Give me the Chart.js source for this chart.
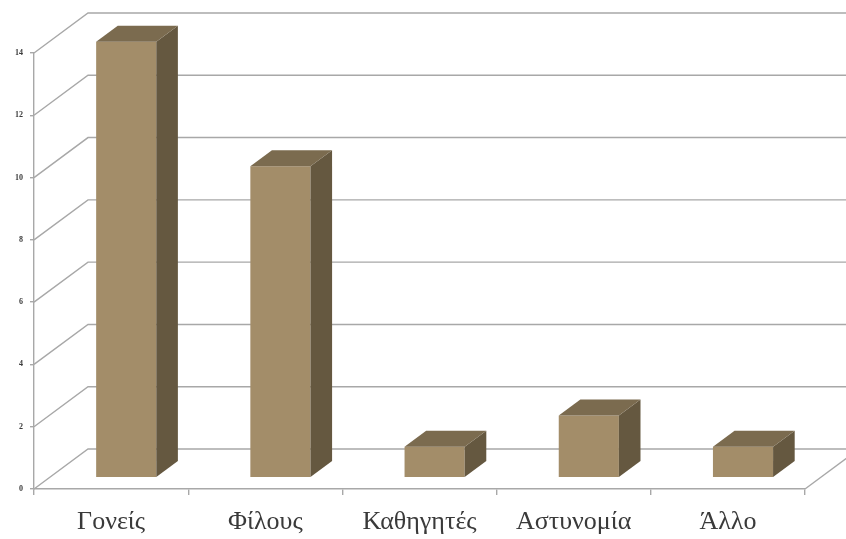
<!DOCTYPE html>
<html>
<head>
<meta charset="utf-8">
<script src="https://cdn.jsdelivr.net/npm/chart.js@4.4.1/dist/chart.umd.min.js"></script>
<style>
  html, body { margin: 0; padding: 0; background: #ffffff; }
  canvas { display: block; }
</style>
</head>
<body>
<canvas id="chart" width="846" height="539"></canvas>
<script>
// Data
const categories = ['Γονείς', 'Φίλους', 'Καθηγητές', 'Αστυνομία', 'Άλλο'];
const counts = [14, 10, 1, 2, 1];
const yTickValues = [0, 2, 4, 6, 8, 10, 12, 14];

// 3D projection: depth of the floor/walls, where the bars sit within it, and how deep they are
const depth = { dx: 54, dy: 40, front: 0.28, size: 0.4 };
const colors = {
  front: '#a38d69',
  side: '#655840',
  top: '#7b6b4f',
  grid: '#a8a8a8',
  text: '#3a3a3a'
};

const wall3d = {
  id: 'wall3d',
  beforeDatasetsDraw(chart) {
    const { ctx, chartArea: a, scales: { y } } = chart;
    ctx.save();
    ctx.strokeStyle = colors.grid;
    ctx.lineWidth = 1.4;
    // gridlines on the left side wall and the back wall
    yTickValues.forEach(v => {
      const py = y.getPixelForValue(v);
      ctx.beginPath();
      ctx.moveTo(a.left, py);
      ctx.lineTo(a.left + depth.dx, py - depth.dy);
      ctx.lineTo(a.right + depth.dx, py - depth.dy);
      ctx.stroke();
    });
    // right edge of the floor
    const base = y.getPixelForValue(0);
    ctx.beginPath();
    ctx.moveTo(a.right, base);
    ctx.lineTo(a.right + depth.dx, base - depth.dy);
    ctx.stroke();
    ctx.restore();
    // bars sit partway into the depth of the floor
    ctx.save();
    ctx.translate(depth.dx * depth.front, -depth.dy * depth.front);
  },
  afterDatasetsDraw(chart) {
    const { ctx } = chart;
    const ox = depth.dx * depth.size, oy = depth.dy * depth.size;
    chart.getDatasetMeta(0).data.forEach(bar => {
      const { x, y, base, width } = bar.getProps(['x', 'y', 'base', 'width'], true);
      const l = x - width / 2, r = x + width / 2;
      // side face
      ctx.fillStyle = colors.side;
      ctx.beginPath();
      ctx.moveTo(r, y);
      ctx.lineTo(r + ox, y - oy);
      ctx.lineTo(r + ox, base - oy);
      ctx.lineTo(r, base);
      ctx.closePath();
      ctx.fill();
      // top face
      ctx.fillStyle = colors.top;
      ctx.beginPath();
      ctx.moveTo(l, y);
      ctx.lineTo(l + ox, y - oy);
      ctx.lineTo(r + ox, y - oy);
      ctx.lineTo(r, y);
      ctx.closePath();
      ctx.fill();
    });
    ctx.restore();
  }
};

new Chart(document.getElementById('chart'), {
  type: 'bar',
  data: {
    labels: categories,
    datasets: [{
      data: counts,
      backgroundColor: colors.front,
      borderWidth: 0,
      categoryPercentage: 1,
      barPercentage: 0.39,
      clip: false
    }]
  },
  options: {
    responsive: false,
    animation: false,
    devicePixelRatio: 1,
    layout: { padding: { top: 53, right: 41, left: 0, bottom: 0 } },
    plugins: { legend: { display: false }, tooltip: { enabled: false } },
    scales: {
      x: {
        offset: true,
        grid: { drawOnChartArea: false, drawTicks: true, tickLength: 6, color: colors.grid, lineWidth: 1.4 },
        border: { color: colors.grid, width: 1.4 },
        ticks: {
          color: colors.text,
          padding: 12,
          maxRotation: 0,
          font: { family: '"Liberation Serif", "DejaVu Serif", serif', size: 26 }
        },
        afterFit(scale) { scale.height = 50; }
      },
      y: {
        min: 0,
        max: 14,
        grid: { drawOnChartArea: false, drawTicks: true, tickLength: 4, color: colors.grid, lineWidth: 1.4 },
        border: { color: colors.grid, width: 1.4 },
        ticks: {
          stepSize: 2,
          color: colors.text,
          padding: 7,
          font: { family: '"Liberation Serif", "DejaVu Serif", serif', size: 8, weight: 'bold' }
        },
        afterFit(scale) { scale.width = 34; }
      }
    }
  },
  plugins: [wall3d]
});
</script>
</body>
</html>
